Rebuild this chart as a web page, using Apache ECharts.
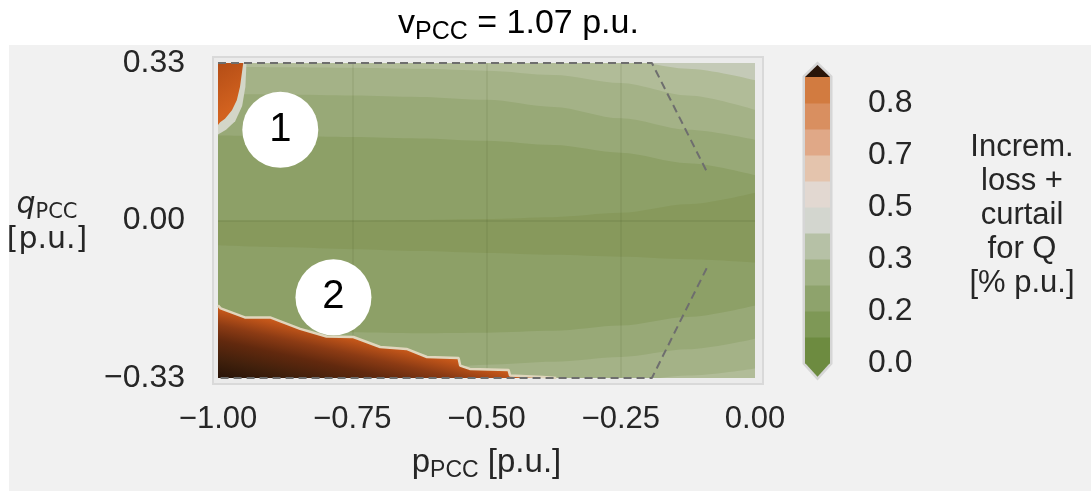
<!DOCTYPE html>
<html>
<head>
<meta charset="utf-8">
<title>vPCC = 1.07 p.u.</title>
<script src="https://cdn.jsdelivr.net/npm/echarts@6/dist/echarts.min.js"></script>
<style>
html, body { margin: 0; padding: 0; background: #fff; }
#main { width: 1091px; height: 491px; }
</style>
</head>
<body>
<div id="main"></div>
<script>
var pGrid = [-1, -0.875, -0.75, -0.625, -0.5, -0.375, -0.25, -0.125, 0];

// upper half: q_PCC of the boundary between two loss bands
var qUp45 = [0.36, 0.358, 0.355, 0.352, 0.348, 0.343, 0.337, 0.318, 0.294];
var qUp34 = [0.322, 0.321, 0.32, 0.318, 0.314, 0.305, 0.288, 0.262, 0.232];
var qUp23 = [0.265, 0.264, 0.262, 0.259, 0.253, 0.238, 0.214, 0.19, 0.169];
var qUp12 = [0.178, 0.177, 0.175, 0.172, 0.167, 0.158, 0.142, 0.12, 0.095];
var qUp01 = [0.0, 0.0, 0.0, 0.001, 0.003, 0.007, 0.016, 0.034, 0.058];
// lower half
var qLo01 = [-0.052, -0.056, -0.06, -0.064, -0.068, -0.072, -0.076, -0.081, -0.088];
var qLo12 = [-0.2, -0.225, -0.234, -0.236, -0.235, -0.231, -0.22, -0.202, -0.178];
var qLo23 = [-0.36, -0.34, -0.325, -0.312, -0.302, -0.296, -0.286, -0.27, -0.248];
var qLo34 = [-0.4, -0.39, -0.38, -0.37, -0.36, -0.348, -0.338, -0.325, -0.31];

// band fill colours as seen in the plot (lowest loss first)
var bandColors = ['#87995c', '#8da067', '#98a977', '#a4b287', '#b1bc98', '#c4cab7'];

// high-loss region, bottom left (staircase edge)
var orangeP = [-1, -0.995, -0.95, -0.903, -0.847, -0.798, -0.748, -0.698, -0.649, -0.611, -0.552, -0.549, -0.531, -0.459, -0.456, -0.395, -0.37];
var orangeQ = [-0.178, -0.184, -0.203, -0.203, -0.227, -0.243, -0.244, -0.265, -0.269, -0.286, -0.288, -0.304, -0.311, -0.313, -0.325, -0.328, -0.33];

// high-loss region, top left
var blobP = [-1, -0.996, -0.987, -0.974, -0.965, -0.959, -0.953];
var blobQ = [0.2, 0.206, 0.213, 0.231, 0.252, 0.28, 0.33];
var fringeP = [-1, -0.985, -0.968, -0.955, -0.949, -0.947];
var fringeQ = [0.18, 0.19, 0.208, 0.24, 0.28, 0.33];

// dashed capability limit
var limTopP = [-1, -0.192, -0.09];
var limTopQ = [0.33, 0.33, 0.103];
var limBotP = [-0.09, -0.192, -1];
var limBotQ = [-0.1, -0.33, -0.33];

// numbered markers
var markP = [-0.884, -0.785];
var markQ = [0.19, -0.161];
var markText = ['1', '2'];

// colour bar
var cbColors = ['#6d8b40', '#7e9856', '#8ea36c', '#a0b184', '#b6c1a6', '#d3d6cf', '#e2d8d1', '#e4c4ad', '#e0a887', '#d98f60', '#d27b40'];
var cbOver = '#2a1509';
var cbTickPos = [0, 2, 4, 6, 8, 10];
var cbTickText = ['0.0', '0.2', '0.3', '0.5', '0.7', '0.8'];
var cbTipOver = 11.46, cbTipUnder = -0.53;

var FONT = 'Liberation Sans';

function pairs(xs, ys) {
    return xs.map(function (x, i) { return [x, ys[i]]; });
}

function band(q, color) {
    return {
        type: 'line',
        data: pairs(pGrid, q),
        smooth: 0.3,
        smoothMonotone: 'x',
        showSymbol: false,
        silent: true,
        clip: true,
        z: 2,
        lineStyle: { width: 0 },
        areaStyle: { color: color, opacity: 1, origin: 'start' }
    };
}

function minusFmt(v, d) {
    if (Math.abs(v) < 1e-9) return (0).toFixed(d);
    return (v < 0 ? '\u2212' : '') + Math.abs(v).toFixed(d);
}

var chart = echarts.init(document.getElementById('main'));

var series = [
    band(qUp45, bandColors[4]),
    band(qUp34, bandColors[3]),
    band(qUp23, bandColors[2]),
    band(qUp12, bandColors[1]),
    band(qUp01, bandColors[0]),
    band(qLo01, bandColors[1]),
    band(qLo12, bandColors[2]),
    band(qLo23, bandColors[3]),
    band(qLo34, bandColors[4]),
    {
        type: 'line',
        data: pairs(orangeP, orangeQ),
        showSymbol: false, silent: true, clip: true, z: 4,
        lineStyle: { color: '#e0d6bd', width: 2.5 },
        areaStyle: {
            opacity: 1, origin: 'start',
            // roughly perpendicular to the staircase edge: darker with depth
            color: new echarts.graphic.LinearGradient(0, 0, -0.043, 0.91, [
                { offset: 0, color: '#cf601e' },
                { offset: 0.08, color: '#bf5419' },
                { offset: 0.28, color: '#8c3b14' },
                { offset: 0.5, color: '#62290e' },
                { offset: 0.78, color: '#41200c' },
                { offset: 1, color: '#2b1508' }
            ])
        }
    },
    {
        type: 'line',
        data: pairs(fringeP, fringeQ),
        showSymbol: false, silent: true, clip: true, z: 4,
        lineStyle: { width: 0 },
        areaStyle: { color: '#d3d6c8', opacity: 1, origin: 'end' }
    },
    {
        type: 'line',
        data: pairs(blobP, blobQ),
        showSymbol: false, silent: true, clip: true, z: 4,
        lineStyle: { width: 0 },
        areaStyle: {
            opacity: 1, origin: 'end',
            color: new echarts.graphic.LinearGradient(0, 0, 1, 0.6, [
                { offset: 0, color: '#b44d16' },
                { offset: 1, color: '#d2621f' }
            ])
        }
    },
    {
        type: 'line',
        data: pairs(limTopP, limTopQ),
        showSymbol: false, silent: true, clip: false, z: 5,
        lineStyle: { color: '#6e6e6e', width: 2, type: [8, 5] }
    },
    {
        type: 'line',
        data: pairs(limBotP, limBotQ),
        showSymbol: false, silent: true, clip: false, z: 5,
        lineStyle: { color: '#6e6e6e', width: 2, type: [8, 5] }
    },
    {
        type: 'scatter',
        data: markP.map(function (p, i) { return [p, markQ[i], markText[i]]; }),
        symbol: 'circle',
        symbolSize: 76,
        silent: true, clip: false, z: 6,
        itemStyle: { color: '#ffffff', opacity: 1 },
        label: {
            show: true, position: 'inside',
            formatter: function (d) { return d.value[2]; },
            fontSize: 40, fontFamily: FONT, color: '#000'
        }
    },
    // colour bar: outline, bands, extension tips
    {
        type: 'custom', xAxisIndex: 1, yAxisIndex: 1, silent: true, z: 2,
        data: [[0.5, 0]],
        renderItem: function (params, api) {
            var pts = [[0.5, cbTipUnder], [1, 0], [1, cbColors.length], [0.5, cbTipOver], [0, cbColors.length], [0, 0]];
            return {
                type: 'polygon',
                shape: { points: pts.map(function (p) { return api.coord(p); }) },
                style: { fill: '#d6d6d6', stroke: '#d6d6d6', lineWidth: 5 }
            };
        }
    },
    {
        type: 'custom', xAxisIndex: 1, yAxisIndex: 1, silent: true, z: 3,
        data: cbColors.map(function (c, i) { return [0.5, i, i + 1]; }),
        renderItem: function (params, api) {
            var a = api.coord([0, api.value(1)]);
            var b = api.coord([1, api.value(2)]);
            return {
                type: 'rect',
                shape: { x: a[0], y: b[1], width: b[0] - a[0], height: a[1] - b[1] + 0.5 },
                style: { fill: cbColors[params.dataIndex] }
            };
        }
    },
    {
        type: 'custom', xAxisIndex: 1, yAxisIndex: 1, silent: true, z: 3,
        data: [[0.5, cbColors.length, cbTipOver], [0.5, 0, cbTipUnder]],
        renderItem: function (params, api) {
            var base = api.value(1), tip = api.value(2);
            return {
                type: 'polygon',
                shape: { points: [api.coord([0, base]), api.coord([1, base]), api.coord([0.5, tip])] },
                style: { fill: params.dataIndex === 0 ? cbOver : cbColors[0] }
            };
        }
    }
];

chart.setOption({
    backgroundColor: '#ffffff',
    animation: false,
    title: {
        text: '{v|v}{s|PCC}{v| = 1.07 p.u.}',
        left: 398, top: 3, padding: 0,
        textStyle: {
            rich: {
                v: { fontSize: 34, fontWeight: 'normal', fontFamily: FONT, color: '#000', lineHeight: 42 },
                s: { fontSize: 25, fontWeight: 'normal', fontFamily: FONT, color: '#000', lineHeight: 24, verticalAlign: 'bottom' }
            }
        }
    },
    graphic: [
        { type: 'rect', z: -10, shape: { x: 9, y: 45, width: 1082, height: 446 }, style: { fill: '#f1f1f1' } },
        { type: 'rect', z: -9, shape: { x: 213, y: 57, width: 550, height: 327 }, style: { fill: '#ebebeb', stroke: '#d9d9d9', lineWidth: 2 } },
        {
            type: 'text', z: 10, x: 47, y: 222,
            style: {
                text: '{q|q}{s|PCC}\n{n|[p.u.]}',
                align: 'center', verticalAlign: 'middle',
                rich: {
                    q: { fontSize: 30, fontStyle: 'italic', fontFamily: 'DejaVu Sans', fill: '#262626', lineHeight: 36, align: 'center' },
                    s: { fontSize: 21, fontFamily: 'DejaVu Sans', fill: '#262626', lineHeight: 20, verticalAlign: 'bottom', align: 'center' },
                    n: { fontSize: 30, fontFamily: 'DejaVu Sans', fill: '#262626', lineHeight: 34, align: 'center' }
                }
            }
        },
        {
            type: 'text', z: 10, x: 1022, y: 215,
            style: {
                text: 'Increm.\nloss +\ncurtail\nfor Q\n[% p.u.]',
                align: 'center', verticalAlign: 'middle',
                font: '31px "Liberation Sans"', lineHeight: 34, fill: '#262626'
            }
        }
    ],
    grid: [
        { left: 218, top: 63, width: 537, height: 315, show: true, backgroundColor: bandColors[5], borderWidth: 0 },
        { left: 805, top: 77, width: 25, height: 286 }
    ],
    xAxis: [
        {
            type: 'value', gridIndex: 0, min: -1, max: 0, interval: 0.25, z: 3,
            axisLine: { show: false }, axisTick: { show: false },
            splitLine: { show: true, showMinLine: false, showMaxLine: false, lineStyle: { color: 'rgba(60,80,30,0.11)', width: 1.5 } },
            axisLabel: {
                fontSize: 31, fontFamily: FONT, color: '#262626', margin: 26,
                formatter: function (v) { return minusFmt(v, 2); }
            },
            name: '{p|p}{s|PCC}{p| [p.u.]}',
            nameLocation: 'middle', nameGap: 66,
            nameTextStyle: {
                rich: {
                    p: { fontSize: 33, fontFamily: FONT, color: '#262626', lineHeight: 38 },
                    s: { fontSize: 23, fontFamily: FONT, color: '#262626', lineHeight: 22, verticalAlign: 'bottom' }
                }
            }
        },
        { type: 'value', gridIndex: 1, min: 0, max: 1, show: false }
    ],
    yAxis: [
        {
            type: 'value', gridIndex: 0, min: -0.33, max: 0.33, interval: 0.33, z: 3,
            axisLine: { show: false }, axisTick: { show: false },
            splitLine: { show: true, showMinLine: false, showMaxLine: false, lineStyle: { color: 'rgba(60,80,30,0.14)', width: 1.5 } },
            axisLabel: {
                fontSize: 32, fontFamily: FONT, color: '#262626', margin: 33,
                formatter: function (v) { return minusFmt(v, 2); }
            }
        },
        {
            type: 'value', gridIndex: 1, position: 'right', min: 0, max: cbColors.length, interval: 2,
            axisLine: { show: false }, splitLine: { show: false },
            axisTick: { show: true, length: 14, customValues: cbTickPos, lineStyle: { color: '#222', width: 2.5 } },
            axisLabel: {
                fontSize: 32, fontFamily: FONT, color: '#262626', margin: 38, customValues: cbTickPos,
                formatter: function (v) {
                    var i = cbTickPos.indexOf(v);
                    return i < 0 ? '' : cbTickText[i];
                }
            }
        }
    ],
    series: series
});
</script>
</body>
</html>
